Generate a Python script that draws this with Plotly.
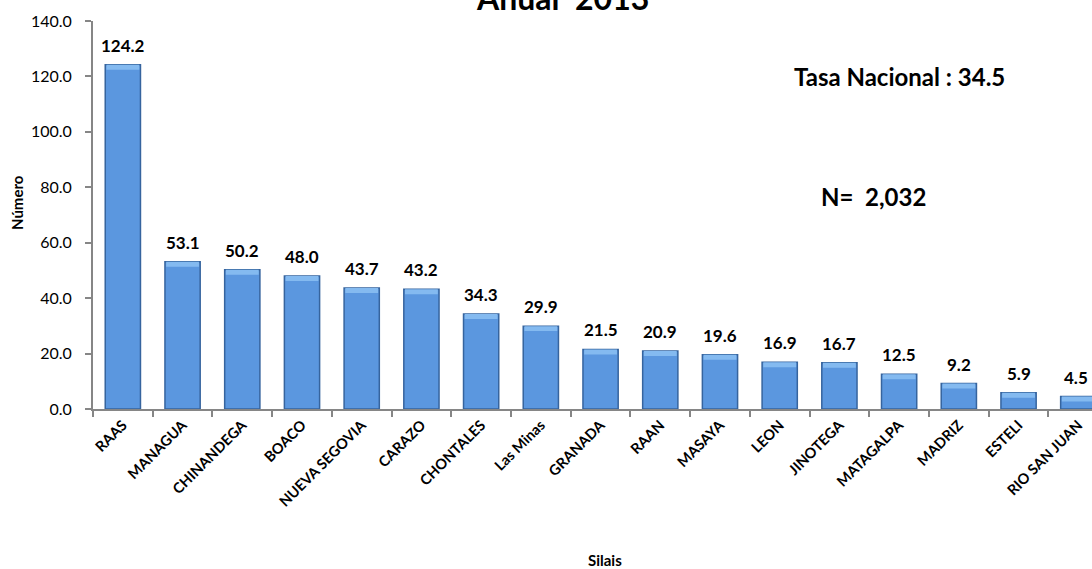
import plotly.graph_objects as go

categories = ["RAAS", "MANAGUA", "CHINANDEGA", "BOACO", "NUEVA SEGOVIA", "CARAZO",
              "CHONTALES", "Las Minas", "GRANADA", "RAAN", "MASAYA", "LEON",
              "JINOTEGA", "MATAGALPA", "MADRIZ", "ESTELI", "RIO SAN JUAN"]
values = [124.2, 53.1, 50.2, 48.0, 43.7, 43.2, 34.3, 29.9, 21.5, 20.9, 19.6,
          16.9, 16.7, 12.5, 9.2, 5.9, 4.5]
y_ticks = [0, 20, 40, 60, 80, 100, 120, 140]

FONT = "Lato"
BEVEL = 1.8  # thickness of the light top band, in axis units

fig = go.Figure()
fig.add_trace(go.Bar(
    x=categories, y=values,
    marker=dict(color="#5B97DF", line=dict(color="#36649E", width=1.5)),
    hoverinfo="skip",
))
# soft light bevel band on top of each bar
fig.add_trace(go.Bar(
    x=categories, y=[BEVEL] * len(values), base=[v - BEVEL for v in values],
    width=0.55,
    marker=dict(color="#84BAF0", line=dict(width=0)),
    hoverinfo="skip",
))

annotations = []
for i, (c, v) in enumerate(zip(categories, values)):
    annotations.append(dict(
        x=c, y=v, xref="x", yref="y", text=f"{v:.1f}", showarrow=False,
        yanchor="bottom", yshift=7, xshift=(-2 if i == len(categories) - 1 else 0),
        font=dict(family=FONT, size=17, color="#000000", weight="bold"),
    ))

annotations += [
    dict(text="Anual  2013", xref="paper", yref="paper", x=0.5, y=1,
         xanchor="center", yanchor="bottom", xshift=-30, yshift=2,
         showarrow=False, font=dict(family=FONT, size=32, color="#000", weight="bold")),
    dict(text="Tasa Nacional : 34.5", xref="paper", yref="paper", x=0.5, y=1,
         xanchor="center", yanchor="middle", xshift=899 - 592.5, yshift=-(76 - 21),
         showarrow=False, font=dict(family=FONT, size=24, color="#000", weight="bold")),
    dict(text="N=  2,032", xref="paper", yref="paper", x=0.5, y=1,
         xanchor="center", yanchor="middle", xshift=873 - 592.5, yshift=-(196 - 21),
         showarrow=False, font=dict(family=FONT, size=24, color="#000", weight="bold")),
    dict(text="Número", xref="paper", yref="paper", x=0, y=0.5,
         xanchor="center", yanchor="middle", xshift=-76, yshift=12, textangle=-90,
         showarrow=False, font=dict(family=FONT, size=15, color="#000", weight="bold")),
    dict(text="Silais", xref="paper", yref="paper", x=0.5, y=0,
         xanchor="center", yanchor="middle", xshift=12, yshift=-151,
         showarrow=False, font=dict(family=FONT, size=15, color="#000", weight="bold")),
]

fig.update_layout(
    width=1092, height=569,
    margin=dict(l=93, r=0, t=21, b=160, autoexpand=False),
    paper_bgcolor="white", plot_bgcolor="white",
    showlegend=False, bargap=0.41, barmode="overlay",
    annotations=annotations,
    font=dict(family=FONT, color="#000"),
)
fig.update_xaxes(
    range=[-0.5, 16.23], showline=True, linecolor="#868686", linewidth=2,
    ticks="outside", tickson="boundaries", ticklen=6, tickcolor="#868686", tickwidth=1.5,
    tickangle=-45, showgrid=False, zeroline=False,
    tickfont=dict(family=FONT, size=14.5, color="#000", weight="bold"),
)
fig.update_yaxes(
    range=[0, 140], tickvals=y_ticks, ticktext=[f"{t:.1f}" for t in y_ticks],
    showline=True, linecolor="#868686", linewidth=2,
    ticks="outside", ticklen=6, tickcolor="#868686", tickwidth=1.5,
    ticklabelstandoff=10,
    showgrid=False, zeroline=False,
    tickfont=dict(family=FONT, size=16, color="#000"),
)

fig.write_html("out.html", config={"displayModeBar": False},
               post_script="document.body.style.margin='0';document.body.style.overflow='hidden';")
